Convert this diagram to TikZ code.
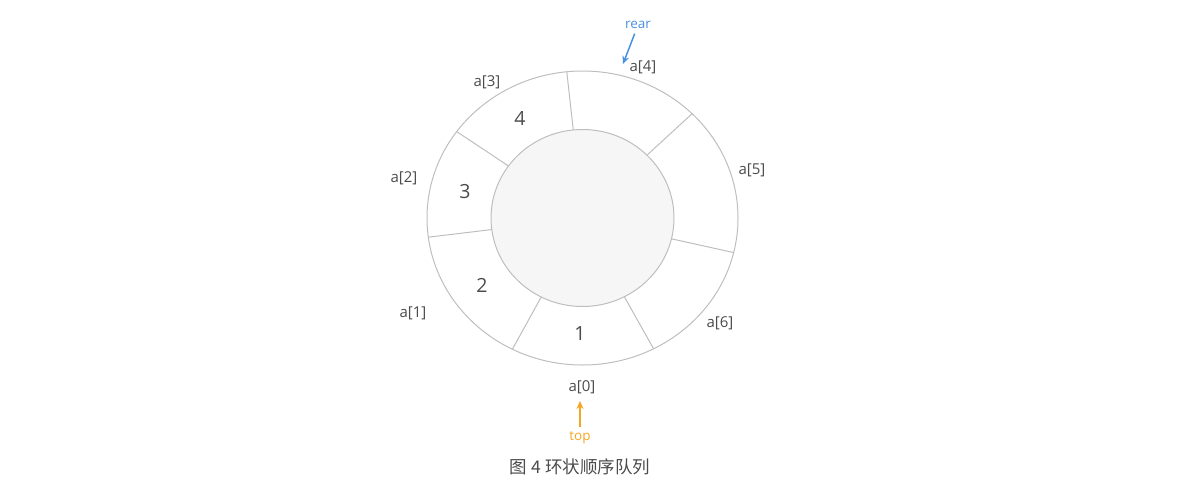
\documentclass[tikz,border=0pt]{standalone}
\usepackage{fontspec}
\setmainfont{Open Sans}
\newfontfamily\cjk{Noto Sans CJK SC}
\usetikzlibrary{arrows.meta,positioning,calc}
\definecolor{ringgray}{RGB}{190,190,190}
\definecolor{hubfill}{RGB}{246,246,246}
\definecolor{labgray}{RGB}{75,75,75}
\definecolor{rearblue}{RGB}{74,144,226}
\definecolor{toporange}{RGB}{245,166,35}

\begin{document}
\begin{tikzpicture}[x=1pt, y=1pt,
    ring/.style={draw=ringgray, line width=1pt},
    slotlab/.style={font=\fontsize{15}{17}\selectfont, text=labgray, inner sep=1pt},
    slotnum/.style={font=\fontsize{19.5}{22}\selectfont, text=labgray},
    ptrlab/.style={font=\fontsize{13.5}{15}\selectfont, inner sep=1pt},
    ptr/.style={-{Stealth[length=8pt, width=7pt]}, line width=1.5pt, shorten <=4pt},
]
\useasboundingbox (0,0) rectangle (1194,-496);

% Ring of seven slots
\coordinate (c) at (582.5,-218);
\draw[ring] (c) ellipse [x radius=155.5, y radius=147];
\draw[ring, fill=hubfill] (c) ellipse [x radius=91.5, y radius=88.5];
\foreach \a in {95.8,45.2,-13.6,-62.8,-116.8,187.5,144}
    \draw[ring] ($(c)+(\a:91.5 and 88.5)$) -- ($(c)+(\a:155.5 and 147)$);

% Stored elements
\node[slotnum] (n1) at (580,-334) {1};
\node[slotnum] (n2) at (482,-285) {2};
\node[slotnum] (n3) at (465,-192) {3};
\node[slotnum] (n4) at (520,-118) {4};

% Slot indices
\node[slotlab] (a0) at (582,-387) {a[0]};
\node[slotlab] (a1) at (413,-313) {a[1]};
\node[slotlab] (a2) at (404,-178) {a[2]};
\node[slotlab] (a3) at (487,-82) {a[3]};
\node[slotlab] (a4) at (643,-67) {a[4]};
\node[slotlab] (a5) at (752,-170) {a[5]};
\node[slotlab] (a6) at (720,-323) {a[6]};

% Pointers
\node[ptrlab, text=rearblue] (rear) at (638,-25) {rear};
\coordinate (reartip) at (623,-64);
\draw[ptr, rearblue] (rear) -- (reartip);

\node[ptrlab, text=toporange] (top) at (580,-438) {top};
\coordinate (toptip) at (580,-401);
\draw[ptr, toporange] (top) -- (toptip);

% Caption
\node[font=\cjk\fontsize{17.5}{20}\selectfont, text=labgray] (caption) at (580,-467) {图 4 环状顺序队列};
\end{tikzpicture}
\end{document}
